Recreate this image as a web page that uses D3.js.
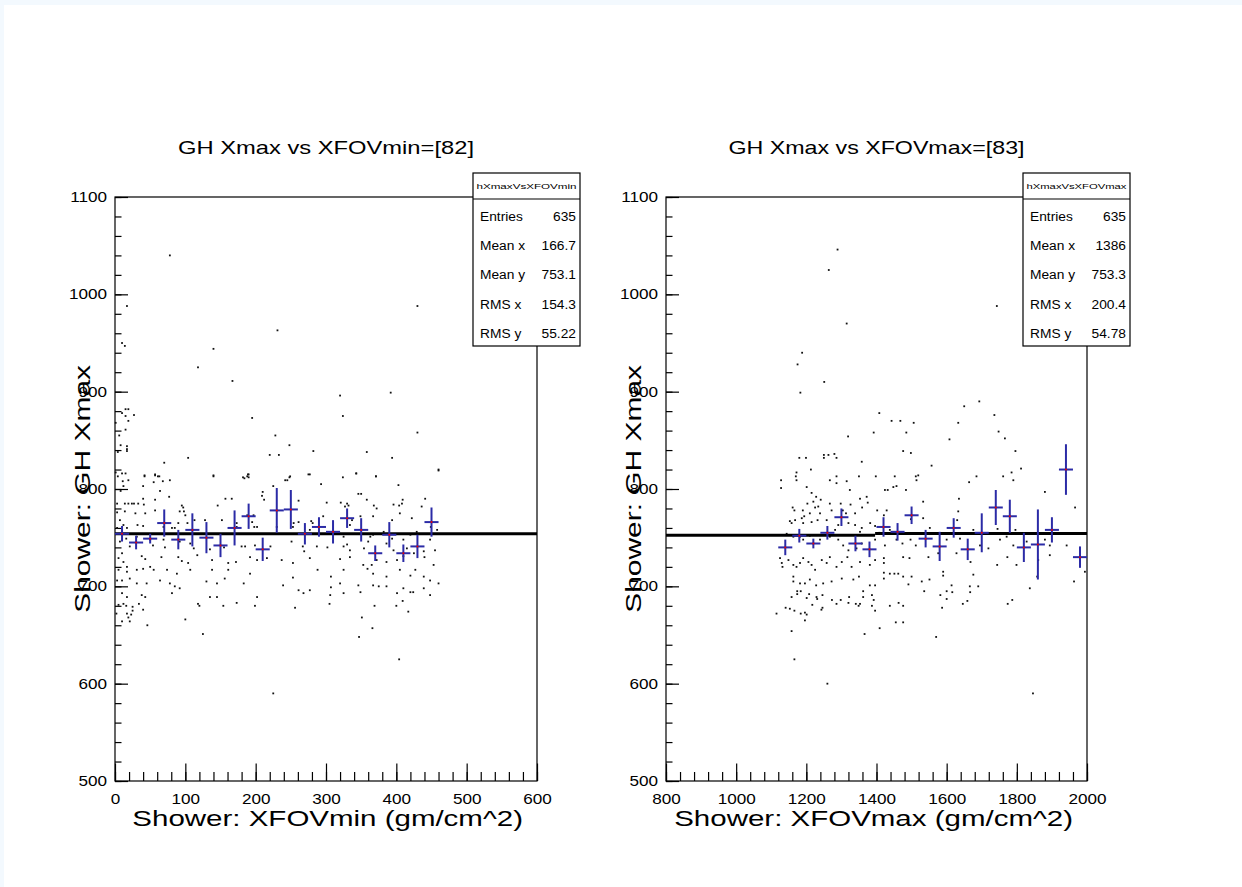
<!DOCTYPE html>
<html>
<head>
<meta charset="utf-8">
<script src="https://cdn.jsdelivr.net/npm/d3@7"></script>
<style>
html, body { margin: 0; padding: 0; background: #f3f9fe; }
svg { display: block; }
text { font-family: "Liberation Sans", Arial, Helvetica, sans-serif; }
</style>
</head>
<body>
<svg id="chart" width="1242" height="887"></svg>
<script>
// stats box rows
var statLabels = ["Entries", "Mean x", "Mean y", "RMS x", "RMS y"];
var leftStats = ["635", "166.7", "753.1", "154.3", "55.22"];
var rightStats = ["635", "1386", "753.3", "200.4", "54.78"];

// profile points (bin centre, mean, error)
var leftProfX = [10, 30, 50, 70, 90, 110, 130, 150, 170, 190, 210, 230, 250, 270, 290, 310, 330, 350, 370, 390, 410, 430, 450];
var leftProfY = [754, 745, 749, 765, 748, 758, 750, 742, 760, 772, 738, 778, 779, 754, 761, 756, 770, 758, 734, 753, 734, 741, 766];
var leftProfErr = [8, 7, 5, 14, 10, 17, 16, 12, 18, 13, 12, 23, 20, 11, 10, 12, 10, 12, 8, 13, 9, 12, 15];

var rightProfX = [1140, 1180, 1220, 1260, 1300, 1340, 1380, 1420, 1460, 1500, 1540, 1580, 1620, 1660, 1700, 1740, 1780, 1820, 1860, 1900, 1940, 1980];
var rightProfY = [740, 752, 744, 755, 771, 744, 738, 761, 756, 773, 749, 741, 760, 738, 755, 781, 772, 740, 743, 758, 820, 730];
var rightProfErr = [8, 7, 5, 7, 9, 8, 8, 10, 9, 9, 9, 15, 10, 11, 20, 18, 17, 15, 36, 13, 26, 11];

// horizontal fit lines
var leftFit = [{x0: 0, x1: 600, y: 754}];
var rightFit = [{x0: 800, x1: 1396, y: 752.4}, {x0: 1396, x1: 2000, y: 754.4}];

// scatter (x, Xmax)
var leftScatter = [
[78,1040],[17,988],[430,988],[231,963],[10,950],[14,947],[140,944],[118,925],[167,911],[320,896],[392,899],
[15,882],[19,882],[10,878],[15,875],[27,876],[19,870],[1,868],[195,873],[324,875],[15,861],[6,855],[228,855],
[430,858],[8,845],[17,844],[17,841],[17,839],[248,845],[282,839],[358,838],[4,838],[220,835],[233,835],[104,832],
[394,832],[70,827],[460,820],[10,816],[15,816],[343,816],[42,813],[57,815],[61,813],[140,813],[182,812],[189,815],
[190,812],[248,812],[275,815],[324,812],[371,813],[4,813],[19,809],
[1,817],[42,814],[57,814],[63,813],[78,809],[55,807],[68,808],[140,814],[184,811],[188,813],[190,815],[249,813],
[242,809],[245,809],[277,815],[293,805],[343,816],[371,813],[403,804],[460,819],[40,803],[64,798],[225,803],[210,797],
[346,795],[350,795],[11,808],[12,803],[8,798],[3,785],[14,785],[19,785],[24,785],[27,785],[40,790],[33,785],[41,784],
[57,789],[77,792],[95,783],[97,781],[98,777],[146,783],[157,790],[166,790],[209,793],[212,789],[261,788],[301,786],
[321,786],[330,785],[332,783],[358,789],[368,783],[372,780],[409,789],[408,785],[404,783],[441,790],[396,784],
[3,776],[14,777],[29,775],[43,775],[57,778],[92,777],[100,773],[7,768],[12,763],[90,765],[103,765],[113,768],[128,768],
[152,768],[173,765],[188,773],[197,773],[195,766],[198,761],[254,765],[261,766],[279,767],[281,765],[296,772],[327,782],
[337,768],[334,763],[349,772],[367,772],[394,768],[405,775],[422,770],[436,782],[3,760],[17,760],[32,763],[40,762],
[69,761],[81,760],[85,760],[173,761],[202,761],[230,761],[253,761],[277,758],[320,754],[325,751],[363,751],[367,753],
[382,756],[394,749],[420,753],[429,756],[449,761],[458,758],
[7,746],[16,749],[31,751],[21,741],[50,748],[54,742],[69,748],[71,740],[92,746],[107,744],[112,739],[135,738],[155,740],
[180,741],[185,741],[199,742],[221,741],[251,746],[267,741],[269,736],[287,741],[302,740],[325,741],[330,743],[334,737],
[354,739],[360,746],[386,744],[396,737],[410,748],[415,739],[439,736],[448,748],[455,737],[10,734],[5,729],[12,725],
[17,720],[38,731],[43,728],[66,730],[90,730],[95,726],[104,724],[117,732],[138,727],[161,724],[172,725],[192,730],
[202,727],[216,729],[237,727],[253,724],[277,729],[320,728],[334,730],[353,722],[365,722],[372,727],[386,725],[401,727],
[410,731],[425,734],[440,730],[453,722],[5,717],[17,715],[31,717],[40,718],[50,720],[55,717],[74,717],[88,713],[107,717],
[138,717],[161,717],[192,713],[253,709],[288,717],[307,710],[325,717],[359,718],[367,713],[386,710],[405,717],[420,711],
[427,717],[439,710],[448,706],[3,706],[10,706],[21,708],[31,703],[45,703],[64,706],[78,703],[85,700],[92,698],[130,705],
[145,703],[156,708],[183,703],[239,701],[261,696],[277,696],[307,699],[320,703],[346,701],[367,701],[375,700],[386,700],
[410,698],[420,694],[439,698],[460,703],[10,693],[17,689],[38,691],[43,689],[81,693],[135,689],[145,689],[202,689],
[268,693],[306,691],[325,693],[349,694],[401,693],[424,694],[448,691],
[25,679],[25,675],[23,671],[17,672],[2,672],[10,664],[19,668],[21,664],[16,680],[5,681],[12,682],[34,682],[40,676],
[46,660],[100,666],[118,682],[120,680],[125,651],[154,680],[173,683],[199,680],[225,590],[256,678],[305,682],[347,648],
[351,668],[366,657],[369,680],[400,680],[404,625],[409,685],[417,674]
];

var rightScatter = [
[1289,1046],[1264,1025],[1743,988],[1315,970],[1188,940],[1175,928],[1251,910],[1183,899],[1650,885],[1693,890],
[1408,878],[1736,876],[1443,870],[1468,870],[1506,868],[1633,868],[1319,854],[1392,858],[1485,858],[1748,859],
[1766,852],[1608,851],
[1476,839],[1498,837],[1796,839],[1180,832],[1199,832],[1250,835],[1263,835],[1250,832],[1280,836],[1286,832],
[1358,828],[1557,824],[1213,820],[1172,817],[1170,813],[1172,809],[1128,809],[1128,801],[1201,802],[1215,796],
[1228,792],[1241,789],[1286,813],[1267,809],[1286,806],[1315,808],[1350,813],[1324,799],[1353,790],[1372,792],
[1398,813],[1452,813],[1424,799],[1432,799],[1448,802],[1457,803],[1484,799],[1512,813],[1519,814],[1514,809],
[1685,813],[1664,807],[1761,813],[1785,817],[1790,809],[1812,821],[1880,797],[1966,781],[1635,790],[1533,787],
[1633,777],[1630,768],[1676,758],[1745,759],[1796,758],[1161,781],[1166,778],[1190,778],[1194,772],[1203,785],
[1220,787],[1225,781],[1210,775],[1234,782],[1239,775],[1267,785],[1272,778],[1304,778],[1313,775],[1298,785],
[1326,784],[1339,775],[1375,786],[1402,778],[1421,773],[1429,778],[1359,781],[1153,767],[1158,765],[1168,768],
[1187,770],[1191,765],[1215,766],[1232,768],[1258,768],[1282,758],[1291,763],[1320,765],[1339,763],[1353,756],
[1358,760],[1382,765],[1396,762],[1408,755],[1438,758],[1498,769],[1533,770],[1552,760],[1144,754],[1163,751],
[1182,751],[1191,748],[1210,752],[1239,748],[1267,751],[1291,748],[1305,742],[1320,737],[1343,739],[1358,744],
[1396,748],[1424,742],[1457,748],[1474,744],[1497,748],[1512,742],[1548,730],[1576,734],[1600,748],[1638,749],
[1671,754],[1695,742],[1719,739],[1752,748],[1771,751],[1790,742],[1828,746],[1880,748],[1894,742],[1942,742],
[1125,729],[1130,724],[1132,720],[1149,727],[1163,722],[1172,720],[1182,724],[1191,729],[1206,725],[1215,722],
[1225,717],[1244,727],[1258,724],[1267,730],[1286,720],[1301,725],[1317,730],[1329,720],[1353,725],[1381,722],
[1396,727],[1421,729],[1421,724],[1476,730],[1494,729],[1628,734],[1668,725],[1744,722],[1773,730],[1799,722],
[1861,727],[1894,732],[1163,710],[1163,705],[1182,703],[1196,703],[1210,707],[1228,701],[1248,703],[1272,705],
[1301,708],[1334,707],[1350,710],[1381,701],[1396,701],[1421,714],[1421,708],[1438,713],[1451,713],[1462,713],
[1476,710],[1491,702],[1500,710],[1529,705],[1551,707],[1590,715],[1590,711],[1614,701],[1666,700],[1676,712],
[1690,700],[1837,698],[1858,710],[1963,705],[1994,715],
[1158,689],[1174,695],[1184,695],[1174,692],[1208,692],[1229,689],[1231,687],[1246,691],[1201,688],[1141,678],
[1153,677],[1166,675],[1115,672],[1184,672],[1196,673],[1201,671],[1196,665],[1158,654],[1166,625],[1260,600],
[1217,681],[1243,676],[1246,678],[1273,686],[1286,682],[1298,686],[1322,689],[1320,683],[1341,682],[1349,680],
[1353,682],[1362,689],[1362,695],[1387,691],[1392,686],[1387,680],[1396,675],[1366,651],[1409,657],[1438,680],
[1455,663],[1476,663],[1463,683],[1476,680],[1536,695],[1582,691],[1600,695],[1600,687],[1616,694],[1587,678],
[1570,648],[1646,682],[1659,685],[1667,694],[1774,682],[1787,686],[1846,590]
];

var svg = d3.select('#chart');
svg.append('rect').attr('x', 4).attr('y', 5).attr('width', 1238).attr('height', 882).attr('fill', '#fff');

var y = d3.scaleLinear().domain([500, 1100]).range([781, 197]);

// ROOT text looks horizontally stretched, so widen every label a bit
function stretch(sel, k) {
	sel.each(function() {
		var w = this.getComputedTextLength();
		d3.select(this).attr('textLength', w * k).attr('lengthAdjust', 'spacingAndGlyphs');
	});
}

function drawPanel(p) {
	var x = d3.scaleLinear().domain(p.domain).range(p.range);
	var g = svg.append('g');
	var left = p.range[0], right = p.range[1];

	g.append('rect')
		.attr('x', left).attr('y', 197)
		.attr('width', right - left).attr('height', 584)
		.attr('fill', 'none').attr('stroke', '#000').attr('stroke-width', 1.2);

	// minor + major ticks, pointing inwards
	g.append('g').attr('transform', 'translate(0,781)')
		.call(d3.axisBottom(x).tickValues(p.minorX).tickSize(-9).tickFormat(''));
	var xa = g.append('g').attr('transform', 'translate(0,781)')
		.call(d3.axisBottom(x).tickValues(p.majorX).tickSize(-17.5).tickPadding(13).tickFormat(d3.format('d')));
	g.append('g').attr('transform', 'translate(' + left + ',0)')
		.call(d3.axisLeft(y).tickValues(d3.range(500, 1101, 20)).tickSize(-6.5).tickFormat(''));
	var ya = g.append('g').attr('transform', 'translate(' + left + ',0)')
		.call(d3.axisLeft(y).tickValues(d3.range(500, 1101, 100)).tickSize(-13).tickPadding(8).tickFormat(d3.format('d')));
	g.selectAll('.domain').remove();
	g.selectAll('.tick line').attr('stroke', '#000').attr('stroke-width', 1.2);
	xa.selectAll('text').attr('font-size', 14.5).attr('font-family', null).attr('fill', '#000');
	ya.selectAll('text').attr('font-size', 14.5).attr('font-family', null).attr('fill', '#000');
	stretch(xa.selectAll('text'), 1.18);
	stretch(ya.selectAll('text'), 1.18);

	// scatter
	g.append('g').selectAll('rect')
		.data(p.scatter).enter().append('rect')
		.attr('x', function(d) { return x(d[0]) - 0.9; })
		.attr('y', function(d) { return y(d[1]) - 0.9; })
		.attr('width', 1.8).attr('height', 1.8)
		.attr('fill', '#111');

	// fit line
	g.append('g').selectAll('line')
		.data(p.fit).enter().append('line')
		.attr('x1', function(d) { return x(d.x0); })
		.attr('x2', function(d) { return x(d.x1); })
		.attr('y1', function(d) { return y(d.y); })
		.attr('y2', function(d) { return y(d.y); })
		.attr('stroke', '#000').attr('stroke-width', 3);

	// profile crosses
	var prof = p.profX.map(function(v, i) {
		return {x: v, y: p.profY[i], e: p.profErr[i]};
	});
	var cross = g.append('g').selectAll('g')
		.data(prof).enter().append('g');
	cross.append('line')
		.attr('x1', function(d) { return x(d.x - p.half); })
		.attr('x2', function(d) { return x(d.x + p.half); })
		.attr('y1', function(d) { return y(d.y); })
		.attr('y2', function(d) { return y(d.y); });
	cross.append('line')
		.attr('x1', function(d) { return x(d.x); })
		.attr('x2', function(d) { return x(d.x); })
		.attr('y1', function(d) { return y(d.y - d.e); })
		.attr('y2', function(d) { return y(d.y + d.e); });
	cross.selectAll('line').attr('stroke', '#2b2ba6').attr('stroke-width', 2);
	cross.append('circle')
		.attr('cx', function(d) { return x(d.x); })
		.attr('cy', function(d) { return y(d.y); })
		.attr('r', 1).attr('fill', '#e00');

	// titles
	var cx = (left + right) / 2;
	var title = g.append('text').attr('x', cx).attr('y', 154)
		.attr('text-anchor', 'middle').attr('font-size', 18.5).text(p.title);
	title.attr('textLength', 296).attr('lengthAdjust', 'spacingAndGlyphs');

	var xt = g.append('text').attr('x', right - 14).attr('y', 826)
		.attr('text-anchor', 'end').attr('font-size', 22).text(p.xTitle);
	stretch(xt, 1.34);
	var yt = g.append('text').attr('transform', 'translate(' + (left - 25) + ',365) rotate(-90)')
		.attr('text-anchor', 'end').attr('font-size', 22).text('Shower: GH Xmax');
	stretch(yt, 1.36);

	// stats box
	var bx = right - 64, bw = 107;
	var box = g.append('g');
	box.append('rect').attr('x', bx).attr('y', 173).attr('width', bw).attr('height', 173)
		.attr('fill', '#fff').attr('stroke', '#000').attr('stroke-width', 1.2);
	box.append('line').attr('x1', bx).attr('x2', bx + bw).attr('y1', 199).attr('y2', 199)
		.attr('stroke', '#000').attr('stroke-width', 1.2);
	box.append('text').attr('x', bx + bw / 2).attr('y', 189)
		.attr('text-anchor', 'middle').attr('font-size', 8).text(p.name)
		.attr('textLength', 100).attr('lengthAdjust', 'spacingAndGlyphs');
	var rows = box.selectAll('g.row')
		.data(statLabels).enter().append('g').classed('row', true);
	rows.append('text')
		.attr('x', bx + 7)
		.attr('y', function(d, i) { return 221 + i * 29.2; })
		.attr('font-size', 12.5).text(function(d) { return d; });
	rows.append('text')
		.attr('x', bx + bw - 4)
		.attr('y', function(d, i) { return 221 + i * 29.2; })
		.attr('text-anchor', 'end')
		.attr('font-size', 12.5).text(function(d, i) { return p.stats[i]; });
	stretch(rows.selectAll('text'), 1.1);
}

drawPanel({
	domain: [0, 600], range: [115, 537],
	majorX: d3.range(0, 601, 100), minorX: d3.range(0, 601, 20),
	scatter: leftScatter, fit: leftFit,
	profX: leftProfX, profY: leftProfY, profErr: leftProfErr, half: 10,
	title: 'GH Xmax vs XFOVmin=[82]', xTitle: 'Shower: XFOVmin (gm/cm^2)',
	name: 'hXmaxVsXFOVmin', stats: leftStats
});

drawPanel({
	domain: [800, 2000], range: [666, 1087],
	majorX: d3.range(800, 2001, 200), minorX: d3.range(800, 2001, 40),
	scatter: rightScatter, fit: rightFit,
	profX: rightProfX, profY: rightProfY, profErr: rightProfErr, half: 20,
	title: 'GH Xmax vs XFOVmax=[83]', xTitle: 'Shower: XFOVmax (gm/cm^2)',
	name: 'hXmaxVsXFOVmax', stats: rightStats
});
</script>
</body>
</html>
